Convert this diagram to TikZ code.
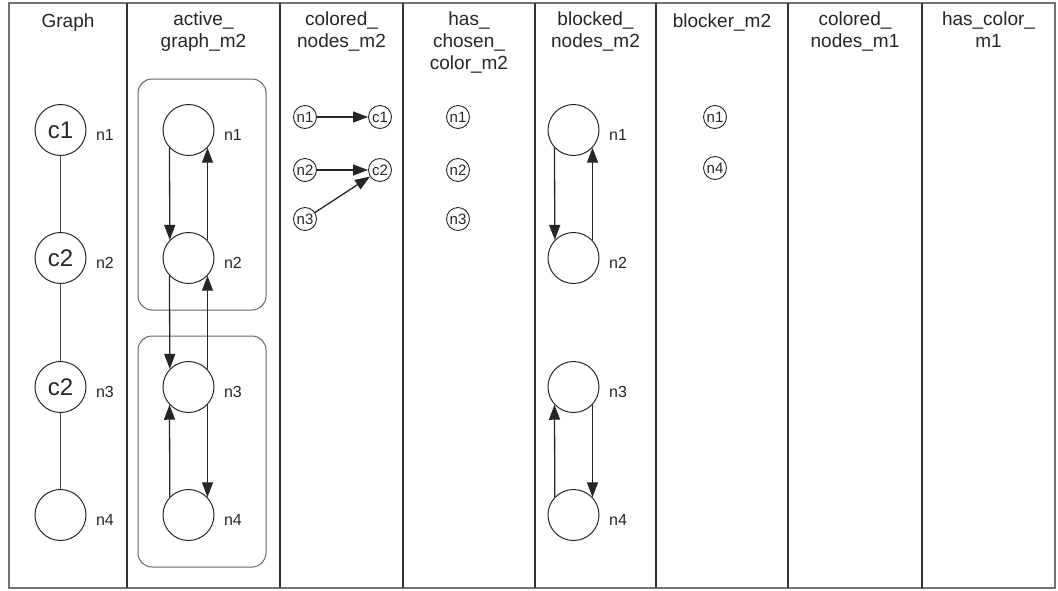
\documentclass[tikz,border=0pt]{standalone}
\usepackage{fontspec}
\setmainfont{Liberation Sans}
\usetikzlibrary{arrows.meta}
\tikzset{
  frameline/.style={draw=black!55, line width=1.3pt},
  sepline/.style={draw=black!80, line width=1.4pt},
  title/.style={anchor=north, align=center, inner sep=0pt, font=\fontsize{19}{22}\selectfont, text=black!85, execute at begin node=\strut},
  bignode/.style={circle, draw=black!85, line width=1pt, minimum size=51pt, inner sep=0pt, font=\fontsize{24}{24}\selectfont, text=black!85},
  smallnode/.style={circle, draw=black!85, line width=0.9pt, minimum size=23pt, inner sep=0pt, font=\fontsize{15}{15}\selectfont, text=black!85},
  lbl/.style={inner sep=0pt, font=\fontsize{16}{16}\selectfont, text=black!85},
  undirected/.style={draw=black!70, line width=1pt},
  arc/.style={draw=black!85, line width=1.3pt, -{Triangle[length=15pt,width=11pt]}},
  group/.style={draw=black!60, line width=1pt, rounded corners=14pt},
}
\begin{document}
\begin{tikzpicture}[x=1pt,y=-1pt]
\useasboundingbox (0,0) rectangle (1058,590);
% frame and columns
\draw[frameline] (9,3) rectangle (1055,588);
\foreach \xx in {127,280,403,535,656,788,922} \draw[sepline] (\xx,3) -- (\xx,588);
% titles
\node[title] (t1) at (68,11.6) {Graph};
\node[title] (t2) at (203.5,11.6) {active\_\\graph\_m2};
\node[title] (t3) at (341.5,11.6) {colored\_\\nodes\_m2};
\node[title] (t4) at (469,11.6) {has\_\\chosen\_\\color\_m2};
\node[title] (t5) at (595.5,11.6) {blocked\_\\nodes\_m2};
\node[title] (t6) at (722,11.6) {blocker\_m2};
\node[title] (t7) at (855,11.6) {colored\_\\nodes\_m1};
\node[title] (t8) at (988.5,11.6) {has\_color\_\\m1};
% Graph column
\node[bignode] (g1) at (60.5,130) {c1};
\node[bignode] (g2) at (60.5,258) {c2};
\node[bignode] (g3) at (60.5,387) {c2};
\node[bignode] (g4) at (60.5,515) {};
\node[lbl] (gl1) at (105,135) {n1};
\node[lbl] (gl2) at (105,263) {n2};
\node[lbl] (gl3) at (105,392) {n3};
\node[lbl] (gl4) at (105,520) {n4};
\draw[undirected] (g1) -- (g2);
\draw[undirected] (g2) -- (g3);
\draw[undirected] (g3) -- (g4);
% active_graph_m2
\draw[group] (138,79) rectangle (266,310);
\draw[group] (138,336) rectangle (266,567);
\node[bignode] (a1) at (188.5,130) {};
\node[bignode] (a2) at (188.5,258) {};
\node[bignode] (a3) at (188.5,387) {};
\node[bignode] (a4) at (188.5,515) {};
\node[lbl] (al1) at (233,135) {n1};
\node[lbl] (al2) at (233,263) {n2};
\node[lbl] (al3) at (233,392) {n3};
\node[lbl] (al4) at (233,520) {n4};
\draw[arc] (a1.223.5) -- (a2.136.5);
\draw[arc] (a2.43.5) -- (a1.-43.5);
\draw[arc] (a2.223.5) -- (a3.136.5);
\draw[arc] (a3.43.5) -- (a2.-43.5);
\draw[arc] (a4.136.5) -- (a3.223.5);
\draw[arc] (a3.-43.5) -- (a4.43.5);
% colored_nodes_m2
\node[smallnode] (cn1) at (305,117) {n1};
\node[smallnode] (cn2) at (305,170) {n2};
\node[smallnode] (cn3) at (305,219) {n3};
\node[smallnode] (cc1) at (380,117) {c1};
\node[smallnode] (cc2) at (380,170) {c2};
\draw[arc] (cn1) -- (cc1);
\draw[arc] (cn2) -- (cc2);
\draw[arc] (cn3) -- (cc2);
% has_chosen_color_m2
\node[smallnode] (h1) at (458,117) {n1};
\node[smallnode] (h2) at (458,170) {n2};
\node[smallnode] (h3) at (458,219) {n3};
% blocked_nodes_m2
\node[bignode] (b1) at (573.5,130) {};
\node[bignode] (b2) at (573.5,258) {};
\node[bignode] (b3) at (573.5,387) {};
\node[bignode] (b4) at (573.5,515) {};
\node[lbl] (bl1) at (618,135) {n1};
\node[lbl] (bl2) at (618,263) {n2};
\node[lbl] (bl3) at (618,392) {n3};
\node[lbl] (bl4) at (618,520) {n4};
\draw[arc] (b1.223.5) -- (b2.136.5);
\draw[arc] (b2.43.5) -- (b1.-43.5);
\draw[arc] (b4.136.5) -- (b3.223.5);
\draw[arc] (b3.-43.5) -- (b4.43.5);
% blocker_m2
\node[smallnode] (k1) at (715,117) {n1};
\node[smallnode] (k4) at (715,168) {n4};
\end{tikzpicture}
\end{document}
